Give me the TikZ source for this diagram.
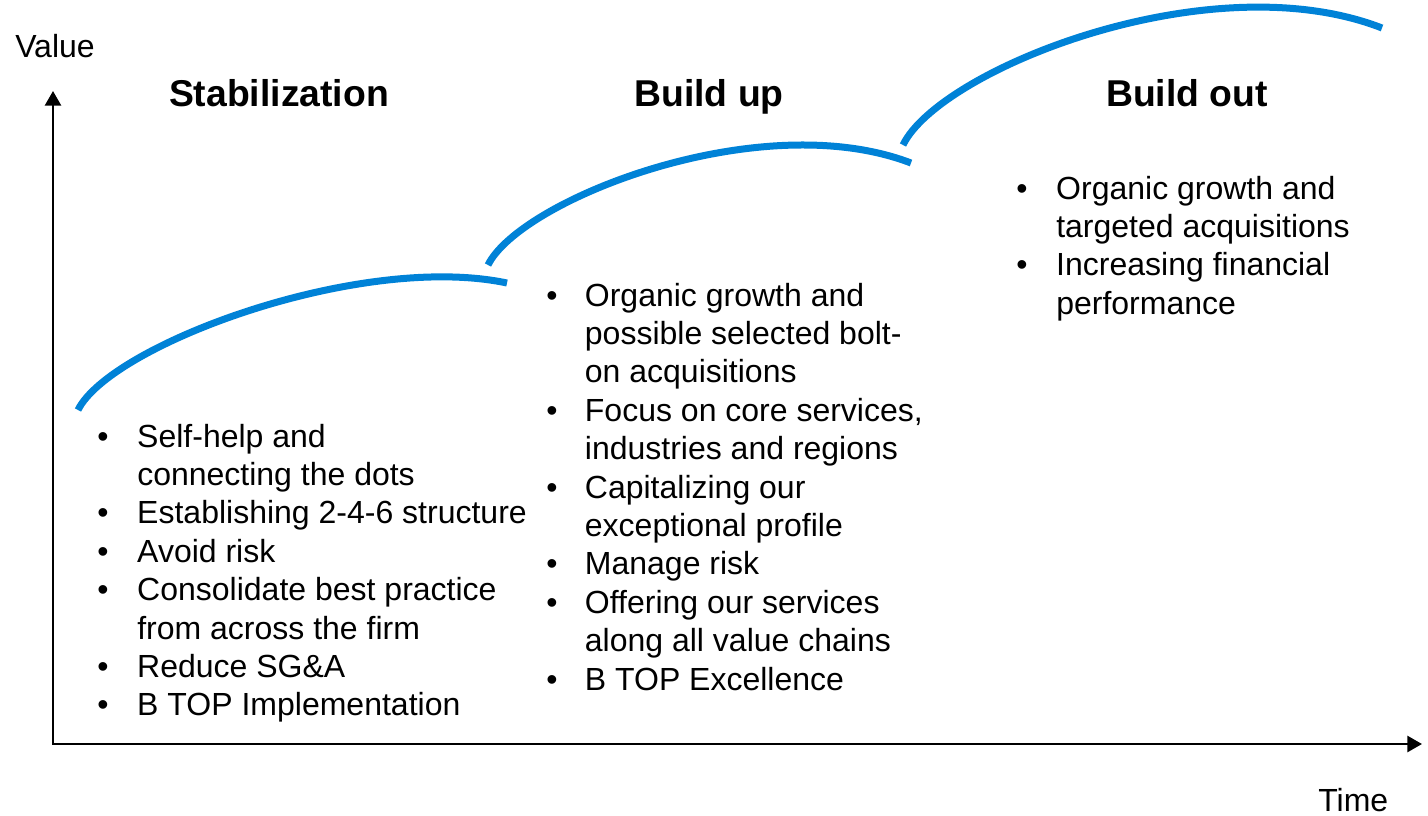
\documentclass[tikz,border=0pt]{standalone}
\usepackage{fontspec}
\setmainfont{Liberation Sans}
\usetikzlibrary{arrows.meta}
\definecolor{curveblue}{RGB}{0,130,215}
\newcommand{\bl}{\textbullet}
\tikzset{
  axis/.style={draw=black, line width=2pt},
  phase/.style={draw=curveblue, line width=5.25pt, line cap=butt},
  title/.style={font=\fontsize{28}{33.6}\selectfont\bfseries, inner sep=0pt, anchor=base},
  label/.style={font=\fontsize{24}{28.8}\selectfont, inner sep=0pt, anchor=base west},
  listbox/.style={font=\fontsize{24}{28.8}\selectfont, inner sep=0pt, anchor=base west}
}
\begin{document}
\begin{tikzpicture}[x=0.75pt, y=-0.75pt]
\useasboundingbox (0,0) rectangle (1428,815);
% axes
\coordinate (O) at (53,744);
\coordinate (ytip) at (53,91);
\coordinate (xtip) at (1422,744);
\draw[axis, {Triangle[length=11pt,width=12pt]}-{Triangle[length=11pt,width=12pt]}] (ytip) -- (O) -- (xtip);
\node[label] (value) at (15,57) {Value};
\node[label] (time) at (1318,811) {Time};
% curves
\coordinate (c1s) at (78,410);
\coordinate (c1e) at (507,283);
\coordinate (c2s) at (488,265);
\coordinate (c2e) at (911,163);
\coordinate (c3s) at (903,145);
\coordinate (c3e) at (1382,28);
\draw[phase] (c1s) .. controls (110,345) and (360,252) .. (c1e);
\draw[phase] (c2s) .. controls (520,200) and (760,105) .. (c2e);
\draw[phase] (c3s) .. controls (939,70) and (1210,-39) .. (c3e);
% titles
\node[title] (t1) at (279,106) {Stabilization};
\node[title] (t2) at (709,106) {Build up};
\node[title] (t3) at (1187,106) {Build out};
% lists
\node[listbox] (l1) at (97,447) {\begin{tabular}[t]{@{}p{30pt}@{}l@{}}
\bl & Self-help and \\
    & connecting the dots \\
\bl & Establishing 2-4-6 structure \\
\bl & Avoid risk \\
\bl & Consolidate best practice \\
    & from across the firm \\
\bl & Reduce SG\&A \\
\bl & B TOP Implementation
\end{tabular}};
\node[listbox] (l2) at (546,306) {\begin{tabular}[t]{@{}p{29pt}@{}l@{}}
\bl & Organic growth and \\
    & possible selected bolt- \\
    & on acquisitions \\
\bl & Focus on core services, \\
    & industries and regions \\
\bl & Capitalizing our \\
    & exceptional profile \\
\bl & Manage risk \\
\bl & Offering our services \\
    & along all value chains \\
\bl & B TOP Excellence
\end{tabular}};
\node[listbox] (l3) at (1016,199) {\begin{tabular}[t]{@{}p{30pt}@{}l@{}}
\bl & Organic growth and \\
    & targeted acquisitions \\
\bl & Increasing financial \\
    & performance
\end{tabular}};
\end{tikzpicture}
\end{document}
